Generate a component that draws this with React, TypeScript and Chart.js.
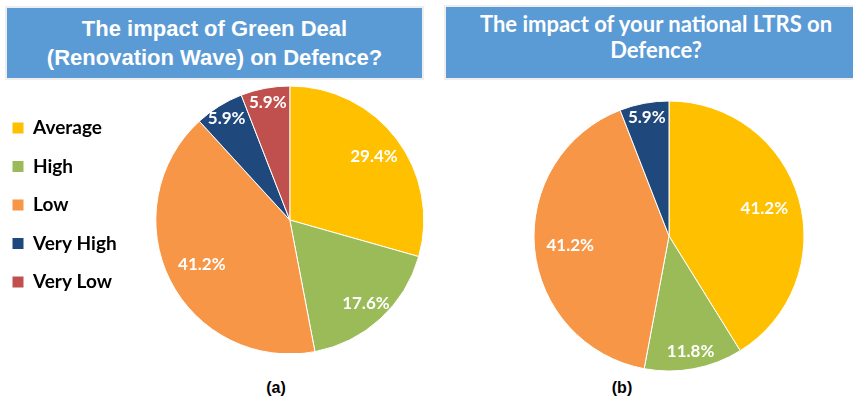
import React, { useEffect, useRef } from "react";
import { Chart, registerables } from "chart.js";

Chart.register(...registerables);

// ---- data ----
const categories = ["Average", "High", "Low", "Very High", "Very Low"];
const greenDealValues = [29.4, 17.6, 41.2, 5.9, 5.9];
const ltrsValues = [41.2, 11.8, 41.2, 5.9, 0];
const sliceColors = ["#FFC000", "#9BBB59", "#F79646", "#1F497D", "#C0504D"];
const titleA = ["The impact of Green Deal", "(Renovation Wave) on Defence?"];
const titleB = ["The impact of your national LTRS on", "Defence?"];
const captionA = "(a)";
const captionB = "(b)";

const LABEL_FONT = "Lato, 'Open Sans', sans-serif";

const sliceLabelPlugin = {
  id: "sliceLabels",
  afterDatasetsDraw(chart: any) {
    const ctx = chart.ctx;
    const meta = chart.getDatasetMeta(0);
    const data = chart.data.datasets[0].data as number[];
    ctx.save();
    ctx.font = `bold 17px ${LABEL_FONT}`;
    ctx.fillStyle = "#ffffff";
    ctx.textAlign = "center";
    ctx.textBaseline = "middle";
    meta.data.forEach((arc: any, i: number) => {
      const v = data[i];
      if (!v) return;
      const p = arc.getProps(["x", "y", "startAngle", "endAngle", "outerRadius"], true);
      const mid = (p.startAngle + p.endAngle) / 2;
      const f = 0.92 - 0.0045 * v;
      ctx.fillText(
        v.toFixed(1) + "%",
        p.x + Math.cos(mid) * p.outerRadius * f,
        p.y + Math.sin(mid) * p.outerRadius * f
      );
    });
    ctx.restore();
  },
};

function makeDataset(values: number[], radius: number) {
  return {
    data: values,
    backgroundColor: sliceColors,
    borderColor: "#ffffff",
    borderWidth: 1,
    radius,
  };
}

function PieA() {
  const ref = useRef<HTMLCanvasElement>(null);
  useEffect(() => {
    if (!ref.current) return;
    const chart = new Chart(ref.current, {
      type: "pie",
      data: { labels: categories, datasets: [makeDataset(greenDealValues, 134) as any] },
      options: {
        responsive: false,
        animation: false,
        devicePixelRatio: 1,
        layout: { padding: 0 },
        plugins: {
          legend: {
            position: "left",
            align: "center",
            labels: {
              boxWidth: 11,
              boxHeight: 11,
              padding: 19.5,
              color: "#000000",
              font: { family: LABEL_FONT, weight: "bold", size: 19 },
              generateLabels: (c: any) =>
                (Chart as any).overrides.pie.plugins.legend.labels
                  .generateLabels(c)
                  .map((l: any) => ({ ...l, lineWidth: 0 })),
            },
          },
          title: {
            display: true,
            text: " ",
            position: "top",
            fullSize: false,
            padding: { top: 20, bottom: 0 },
            font: { size: 10, lineHeight: 1 },
          },
          tooltip: { enabled: false },
        },
      } as any,
      plugins: [sliceLabelPlugin],
    });
    return () => chart.destroy();
  }, []);
  return (
    <canvas
      ref={ref}
      width={460}
      height={296}
      style={{ position: "absolute", left: -7, top: 57, width: 460, height: 296 }}
    />
  );
}

function PieB() {
  const ref = useRef<HTMLCanvasElement>(null);
  useEffect(() => {
    if (!ref.current) return;
    const chart = new Chart(ref.current, {
      type: "pie",
      data: { labels: categories, datasets: [makeDataset(ltrsValues, 135) as any] },
      options: {
        responsive: false,
        animation: false,
        devicePixelRatio: 1,
        layout: { padding: 0 },
        plugins: {
          legend: { display: false },
          title: { display: false },
          tooltip: { enabled: false },
        },
      } as any,
      plugins: [sliceLabelPlugin],
    });
    return () => chart.destroy();
  }, []);
  return (
    <canvas
      ref={ref}
      width={280}
      height={280}
      style={{ position: "absolute", left: 529, top: 96, width: 280, height: 280 }}
    />
  );
}

const boxBase: React.CSSProperties = {
  position: "absolute",
  background: "#5B9BD5",
  color: "#ffffff",
  fontWeight: "bold",
  textAlign: "center",
  boxShadow: "0 0 0 2px #eeeeee",
  boxSizing: "border-box",
  whiteSpace: "nowrap",
};

export default function App() {
  return (
    <div
      style={{
        position: "absolute",
        left: 0,
        top: 0,
        width: 853,
        height: 403,
        overflow: "hidden",
        background: "#ffffff",
      }}
    >
      <div
        style={{
          ...boxBase,
          left: 7,
          top: 8,
          width: 415,
          height: 70,
          fontFamily: "'Liberation Sans', Arial, sans-serif",
          fontSize: 22,
          lineHeight: "29px",
          paddingTop: 6,
        }}
      >
        {titleA.map((t) => (
          <div key={t}>{t}</div>
        ))}
      </div>
      <div
        style={{
          ...boxBase,
          left: 446,
          top: 7,
          width: 420,
          height: 71,
          fontFamily: LABEL_FONT,
          fontSize: 22,
          lineHeight: "26px",
          paddingTop: 4,
        }}
      >
        {titleB.map((t) => (
          <div key={t}>{t}</div>
        ))}
      </div>
      <PieA />
      <PieB />
      <div
        style={{
          position: "absolute",
          left: 236,
          top: 378,
          width: 80,
          textAlign: "center",
          fontFamily: "'Liberation Sans', Arial, sans-serif",
          fontWeight: "bold",
          fontSize: 16,
          lineHeight: "20px",
          color: "#000",
        }}
      >
        {captionA}
      </div>
      <div
        style={{
          position: "absolute",
          left: 582,
          top: 378,
          width: 80,
          textAlign: "center",
          fontFamily: "'Liberation Sans', Arial, sans-serif",
          fontWeight: "bold",
          fontSize: 16,
          lineHeight: "20px",
          color: "#000",
        }}
      >
        {captionB}
      </div>
    </div>
  );
}
